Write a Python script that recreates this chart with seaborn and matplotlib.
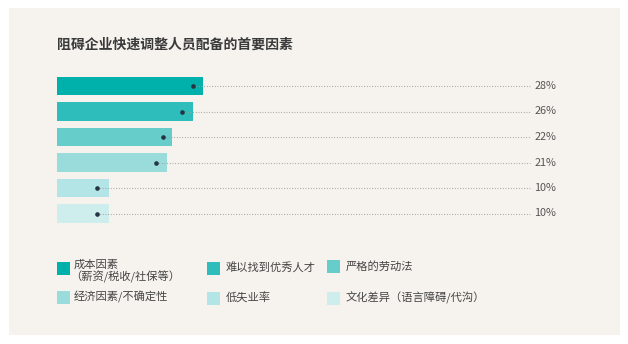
import matplotlib
matplotlib.use("Agg")
import matplotlib.pyplot as plt
from matplotlib.patches import Rectangle
import seaborn as sns
import pandas as pd

categories = ["成本因素\n（薪资/税收/社保等）", "难以找到优秀人才", "严格的劳动法",
              "经济因素/不确定性", "低失业率", "文化差异（语言障碍/代沟）"]
values = [28, 26, 22, 21, 10, 10]
prev_values = [26, 24, 20.3, 19, 7.7, 7.7]
value_labels = ["28%", "26%", "22%", "21%", "10%", "10%"]
colors = ["#00b0ab", "#2ebdba", "#66cdcb", "#9adcdb", "#b3e5e6", "#cdeeed"]
title = "阻碍企业快速调整人员配备的首要因素"

sns.set_theme(style="white")
plt.rcParams['font.family'] = ['Noto Sans CJK SC', 'DejaVu Sans']

W, H = 628, 344
fig = plt.figure(figsize=(W / 100, H / 100), dpi=100)
fig.patch.set_facecolor("white")

def fx(px):
    return px / W

def fy(py):
    return 1 - py / H

# cream panel
fig.patches.append(Rectangle((fx(9), fy(335)), fx(620) - fx(9), fy(8) - fy(335),
                             transform=fig.transFigure, facecolor="#f6f3ee",
                             edgecolor="none", zorder=-5))

# axes: x from 57 to 557 px, y from 70 to 230 px
ax = fig.add_axes([fx(57), fy(230), fx(557) - fx(57), fy(70) - fy(230)])
ax.set_zorder(2)
ax.set_facecolor("none")
df = pd.DataFrame({"cat": categories, "val": values})
sns.barplot(data=df, x="val", y="cat", hue="cat", palette=colors, orient="h",
            width=0.74, ax=ax, legend=False, saturation=1, linewidth=0)
px_per = 5.22
ax.set_xlim(0, 500 / px_per)
ax.set_ylim(5 + (230 - 213.5) / 25.5, -(86 - 70) / 25.5)
line_end = (530 - 57) / px_per
for i, (pv, lab) in enumerate(zip(prev_values, value_labels)):
    ax.plot([pv, line_end], [i, i], linestyle=(0, (0.8, 1.6)), color="#a0a0a0", lw=0.8, zorder=3)
    ax.scatter([pv], [i], s=11, color="#243444", zorder=4, linewidths=0)
    ax.text(line_end + 0.8, i, lab, ha="left", va="center", fontsize=7.8, color="#555555")
ax.axis("off")

# title
fig.text(fx(57), fy(45), title, fontsize=10, fontweight="bold", color="#3a3a3a",
         ha="left", va="center")

# legend
legend_items = [
    (57, 268, 74, ["成本因素", "（薪资/税收/社保等）"]),
    (207, 268, 226, ["难以找到优秀人才"]),
    (327, 266, 346, ["严格的劳动法"]),
    (57, 297, 74, ["经济因素/不确定性"]),
    (207, 298, 226, ["低失业率"]),
    (327, 298, 346, ["文化差异（语言障碍/代沟）"]),
]
for (sx, sy, tx, lines), c in zip(legend_items, colors):
    fig.patches.append(Rectangle((fx(sx), fy(sy + 6.5)), 13 / W, 13 / H,
                                 transform=fig.transFigure, facecolor=c,
                                 edgecolor="none", zorder=2))
    if len(lines) == 1:
        fig.text(fx(tx), fy(sy), lines[0], fontsize=8.1, color="#444444",
                 ha="left", va="center")
    else:
        fig.text(fx(tx), fy(sy - 3), lines[0], fontsize=8.1, color="#444444",
                 ha="left", va="center")
        fig.text(fx(tx - 4), fy(sy + 9), lines[1], fontsize=8.1, color="#444444",
                 ha="left", va="center")

fig.savefig("out.png", dpi=100, facecolor="white")
